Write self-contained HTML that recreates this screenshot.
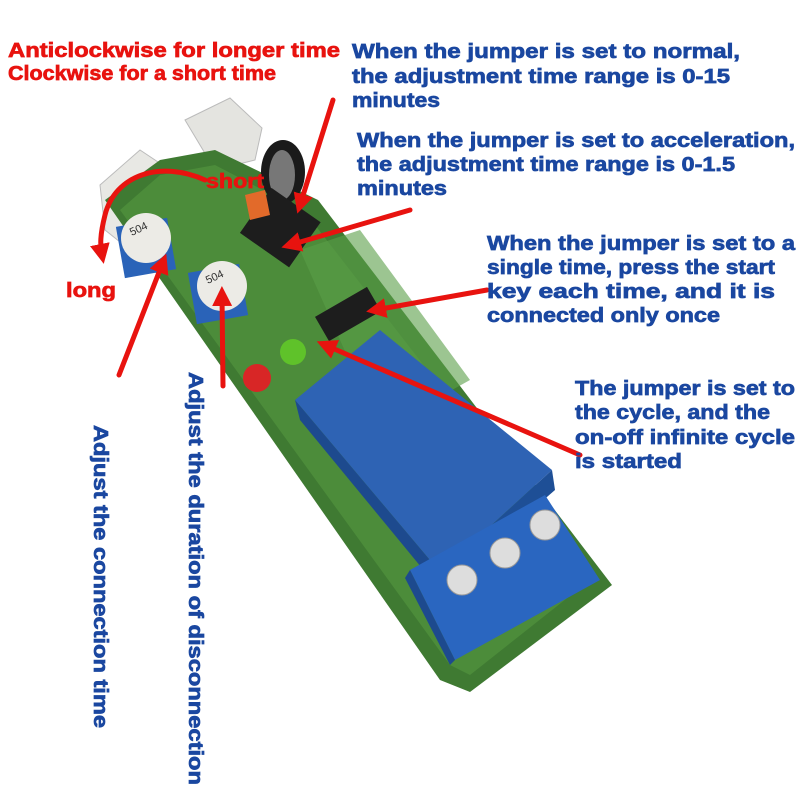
<!DOCTYPE html>
<html><head><meta charset="utf-8"><style>
html,body{margin:0;padding:0;background:#fff;}
svg{display:block}
.r{font-family:"Liberation Sans",sans-serif;font-weight:bold;fill:#e8130f;stroke:#e8130f;stroke-width:0.7;font-size:20px}
.b{font-family:"Liberation Sans",sans-serif;font-weight:bold;fill:#1a47a0;stroke:#1a47a0;stroke-width:0.7;font-size:20px}
</style></head><body>
<svg width="800" height="800" viewBox="0 0 800 800" xmlns="http://www.w3.org/2000/svg">
<defs>
<marker id="ah" markerWidth="4" markerHeight="4" refX="2.2" refY="2" orient="auto" markerUnits="strokeWidth">
<path d="M0,0 L4,2 L0,4 Z" fill="#e8130f"/></marker>
</defs>
<rect width="800" height="800" fill="#fff"/>
<!-- connectors -->
<polygon points="185,120 230,98 262,128 255,160 215,170" fill="#e4e4e0" stroke="#bbb"/>
<polygon points="100,185 140,150 170,170 175,225 130,250 105,230" fill="#e8e8e4" stroke="#bbb"/>
<!-- board -->
<polygon points="105,200 160,160 215,150 318,200 612,585 470,692 440,680" fill="#3f7a32"/>
<polygon points="120,210 160,175 215,165 305,212 590,580 470,675 450,665" fill="#4c8c3a"/>
<polygon points="300,250 360,230 470,380 380,430" fill="#5a9e48" opacity=".6"/>
<!-- capacitor -->
<ellipse cx="283" cy="172" rx="22" ry="32" fill="#1a1a1a"/>
<ellipse cx="282" cy="175" rx="13" ry="25" fill="#777"/>
<!-- header pins -->
<rect x="250" y="200" width="60" height="55" fill="#1d1d1d" transform="rotate(35 280 228)"/>
<rect x="318" y="300" width="60" height="28" fill="#1d1d1d" transform="rotate(-30 348 314)"/>
<polygon points="245,195 265,190 270,215 250,220" fill="#e26a2a"/>
<!-- pots -->
<rect x="120" y="222" width="52" height="52" fill="#2a63b8" transform="rotate(-10 146 248)"/>
<circle cx="146" cy="238" r="25" fill="#ecebe6"/>
<text x="130" y="232" font-family="Liberation Sans" font-size="11" fill="#333" transform="rotate(-25 140 230)">504</text>
<rect x="192" y="268" width="52" height="52" fill="#2a63b8" transform="rotate(-10 218 294)"/>
<circle cx="222" cy="286" r="25" fill="#ecebe6"/>
<text x="206" y="280" font-family="Liberation Sans" font-size="11" fill="#333" transform="rotate(-25 216 278)">504</text>
<!-- leds -->
<circle cx="293" cy="352" r="13" fill="#5fc22a"/>
<circle cx="257" cy="378" r="14" fill="#d82626"/>
<!-- relay -->
<polygon points="295,400 380,330 552,470 440,572" fill="#2e63b4"/>
<polygon points="295,400 440,572 440,590 300,420" fill="#1d4a8e"/>
<polygon points="440,572 552,470 555,490 440,590" fill="#1e4f96"/>
<!-- terminal -->
<polygon points="410,570 545,495 600,580 455,660" fill="#2a66c0"/>
<polygon points="410,570 455,660 450,665 405,578" fill="#1d4a8e"/>
<circle cx="462" cy="580" r="15" fill="#ddd" stroke="#999"/>
<circle cx="505" cy="553" r="15" fill="#ddd" stroke="#999"/>
<circle cx="545" cy="525" r="15" fill="#ddd" stroke="#999"/>
<!-- arrows -->
<g stroke="#e8130f" stroke-width="5" fill="none" stroke-linecap="round">
<path d="M205,180 C160,160 115,175 105,215 C100,235 100,245 102,255" marker-end="url(#ah)"/>
<line x1="333" y1="100" x2="300" y2="205" marker-end="url(#ah)"/>
<line x1="410" y1="210" x2="290" y2="245" marker-end="url(#ah)"/>
<line x1="487" y1="290" x2="375" y2="310" marker-end="url(#ah)"/>
<line x1="580" y1="455" x2="325" y2="345" marker-end="url(#ah)"/>
<line x1="119" y1="375" x2="163" y2="262" marker-end="url(#ah)"/>
<line x1="223" y1="386" x2="222" y2="295" marker-end="url(#ah)"/>
</g>
<!-- texts -->
<text class="r" x="8" y="57" textLength="332" lengthAdjust="spacingAndGlyphs">Anticlockwise for longer time</text>
<text class="r" x="8" y="80" textLength="268" lengthAdjust="spacingAndGlyphs">Clockwise for a short time</text>
<text class="r" x="206" y="188" font-size="18" textLength="58" lengthAdjust="spacingAndGlyphs">short</text>
<text class="r" x="66" y="297" font-size="18" textLength="50" lengthAdjust="spacingAndGlyphs">long</text>
<text class="b" x="352" y="58" textLength="388" lengthAdjust="spacingAndGlyphs">When the jumper is set to normal,</text>
<text class="b" x="352" y="83" textLength="378" lengthAdjust="spacingAndGlyphs">the adjustment time range is 0-15</text>
<text class="b" x="352" y="107" textLength="88" lengthAdjust="spacingAndGlyphs">minutes</text>
<text class="b" x="357" y="147" textLength="438" lengthAdjust="spacingAndGlyphs">When the jumper is set to acceleration,</text>
<text class="b" x="357" y="171" textLength="378" lengthAdjust="spacingAndGlyphs">the adjustment time range is 0-1.5</text>
<text class="b" x="357" y="195" textLength="90" lengthAdjust="spacingAndGlyphs">minutes</text>
<text class="b" x="487" y="250" textLength="308" lengthAdjust="spacingAndGlyphs">When the jumper is set to a</text>
<text class="b" x="487" y="274" textLength="288" lengthAdjust="spacingAndGlyphs">single time, press the start</text>
<text class="b" x="487" y="298" textLength="288" lengthAdjust="spacingAndGlyphs">key each time, and it is</text>
<text class="b" x="487" y="322" textLength="233" lengthAdjust="spacingAndGlyphs">connected only once</text>
<text class="b" x="575" y="395" textLength="220" lengthAdjust="spacingAndGlyphs">The jumper is set to</text>
<text class="b" x="575" y="419" textLength="195" lengthAdjust="spacingAndGlyphs">the cycle, and the</text>
<text class="b" x="575" y="444" textLength="220" lengthAdjust="spacingAndGlyphs">on-off infinite cycle</text>
<text class="b" x="575" y="468" textLength="107" lengthAdjust="spacingAndGlyphs">is started</text>
<text class="b" x="425" y="-94" transform="rotate(90)" textLength="303" lengthAdjust="spacingAndGlyphs">Adjust the connection time</text>
<text class="b" x="372" y="-189" transform="rotate(90)" textLength="413" lengthAdjust="spacingAndGlyphs">Adjust the duration of disconnection</text>
</svg>
</body></html>
